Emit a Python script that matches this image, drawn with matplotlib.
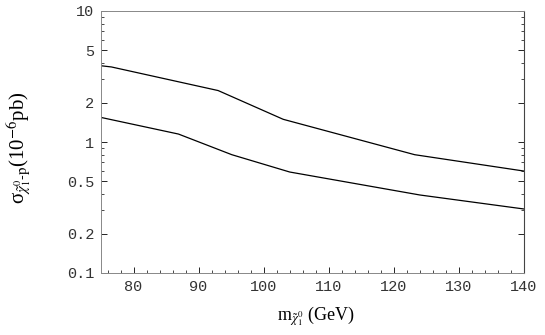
import matplotlib
matplotlib.use('Agg')
import matplotlib.pyplot as plt
from matplotlib.ticker import FixedLocator, MultipleLocator, FixedFormatter

# curve data
m_upper = [75, 76.6, 93.0, 103.0, 123.2, 140]
sigma_upper = [3.82, 3.74, 2.47, 1.49, 0.80, 0.60]

m_lower = [75, 86.9, 95.1, 104.0, 124.0, 140]
sigma_lower = [1.54, 1.15, 0.80, 0.59, 0.394, 0.308]

y_major = [0.1, 0.2, 0.5, 1, 2, 5, 10]
y_major_labels = ['0.1', '0.2', '0.5', '1', '2', '5', '10']
y_minor = [0.3, 0.4, 0.6, 0.7, 0.8, 0.9, 3, 4, 6, 7, 8, 9]

plt.rcParams['mathtext.fontset'] = 'stix'

fig = plt.figure(figsize=(5.45, 3.35), dpi=100)
ax = fig.add_axes([101/545, 1 - 273/335, 423/545, 262/335])

ax.plot(m_upper, sigma_upper, color='black', lw=0.9)
ax.plot(m_lower, sigma_lower, color='black', lw=0.9)

ax.set_yscale('log')
ax.set_xlim(75, 140)
ax.set_ylim(0.1, 10)

ax.yaxis.set_major_locator(FixedLocator(y_major))
ax.yaxis.set_major_formatter(FixedFormatter(y_major_labels))
ax.yaxis.set_minor_locator(FixedLocator(y_minor))
ax.yaxis.set_minor_formatter(FixedFormatter([''] * len(y_minor)))
ax.xaxis.set_major_locator(MultipleLocator(10))
ax.xaxis.set_minor_locator(MultipleLocator(2))

for lab in ax.get_xticklabels() + ax.get_yticklabels():
    lab.set_family('Liberation Mono')
    lab.set_fontsize(11)
    lab.set_color('#333333')

ax.tick_params(which='both', direction='in', left=True, right=True, bottom=True, top=False)
ax.tick_params(which='major', length=4.5, width=0.6, pad=5)
ax.tick_params(which='minor', length=2.5, width=0.5)

for side in ['top', 'left', 'bottom']:
    ax.spines[side].set_color('#888888')
    ax.spines[side].set_linewidth(0.7)
ax.spines['right'].set_color('#444444')
ax.spines['right'].set_linewidth(0.8)

ax.set_xlabel(r'm$_{\tilde{\chi}^0_1}$ (GeV)', family='Liberation Serif', fontsize=13)
ax.xaxis.set_label_coords((316 - 101) / 423, -(304 - 273) / 262)
ax.set_ylabel(r'σ$_{\tilde{\chi}^0_1\mathrm{\text{-}p}}$(10$^{-6}$pb)', family='Liberation Serif', fontsize=15)
ax.yaxis.set_label_coords(-(101 - 33) / 423, (273 - 148) / 262)

fig.savefig('out.png', dpi=100)
